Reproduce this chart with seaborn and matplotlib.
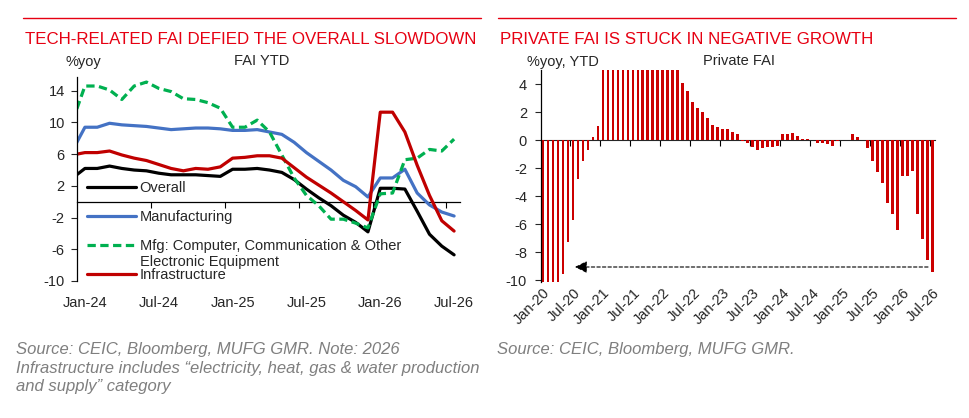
import numpy as np
import matplotlib.pyplot as plt
import seaborn as sns
import pandas as pd
from matplotlib.lines import Line2D

# ---- FAI YTD, %yoy (Dec-23 .. Jul-26, Jan shows the Jan-Feb print) ----
fai_months = pd.date_range('2023-12-01', '2026-07-01', freq='MS')
overall = [3.0,
           4.2, 4.2, 4.5, 4.2, 4.0, 3.9, 3.6, 3.4, 3.4, 3.4, 3.3, 3.2,
           4.1, 4.1, 4.2, 4.0, 3.7, 2.8, 1.6, 0.5, -0.5, -1.7, -2.6, -3.8,
           1.7, 1.7, 1.6, -1.2, -4.1, -5.6, -6.7]
manufacturing = [6.5,
                 9.4, 9.4, 9.9, 9.7, 9.6, 9.5, 9.3, 9.1, 9.2, 9.3, 9.3, 9.2,
                 9.0, 9.0, 9.1, 8.8, 8.5, 7.5, 6.2, 5.1, 4.0, 2.7, 1.9, 0.6,
                 3.0, 3.0, 4.1, 1.1, -0.4, -1.3, -1.8]
computer_elec = [10.2,
                 14.6, 14.6, 14.1, 12.9, 14.6, 15.1, 14.3, 13.9, 13.0, 12.9, 12.5, 11.8,
                 9.4, 9.4, 10.3, 8.8, 5.9, 3.0, 0.8, -0.5, -2.2, -2.2, -2.7, -3.3,
                 1.0, 1.1, 5.3, 5.5, 6.6, 6.4, 7.9]
infrastructure = [5.9,
                  6.2, 6.2, 6.4, 5.9, 5.5, 5.2, 4.7, 4.2, 3.9, 4.2, 4.1, 4.4,
                  5.5, 5.6, 5.8, 5.8, 5.5, 4.3, 3.1, 2.1, 1.1, 0.0, -1.1, -2.3,
                  11.3, 11.3, 8.8, 4.6, 0.8, -2.4, -3.7]
series_names = ['Overall', 'Manufacturing',
                'Mfg: Computer, Communication & Other', 'Infrastructure']
second_line = 'Electronic Equipment'

# ---- Private FAI YTD, %yoy (Jan-20 .. Jul-26) ----
private_months = pd.date_range('2020-01-01', '2026-07-01', freq='MS')
private_fai = [-26.4, -26.4, -18.8, -13.3, -9.6, -7.3, -5.7, -2.8, -1.5, -0.7, 0.2, 1.0,
               36.4, 36.4, 26.0, 21.0, 18.1, 15.4, 13.4, 11.5, 9.8, 8.6, 7.7, 7.0,
               11.4, 11.4, 8.4, 5.3, 4.1, 3.5, 2.7, 2.3, 2.0, 1.6, 1.1, 0.9,
               0.8, 0.8, 0.6, 0.4, -0.1, -0.2, -0.5, -0.7, -0.6, -0.5, -0.5, -0.4,
               0.4, 0.4, 0.5, 0.3, 0.1, 0.1, 0.0, -0.2, -0.2, -0.3, -0.4, -0.1,
               0.0, 0.0, 0.4, 0.2, 0.0, -0.6, -1.5, -2.3, -3.1, -4.5, -5.3, -6.4,
               -2.6, -2.6, -2.2, -5.3, -7.1, -8.6, -9.4]
arrow_level = -9.07

RED_TITLE = '#E60012'
BAR_RED = '#CC0000'
GREY = '#7F7F7F'
line_colors = ['#000000', '#4472C4', '#00B050', '#C00000']
line_styles = ['-', '-', (0, (2.6, 1.4)), '-']

sns.set_style('white')
plt.rcParams['font.family'] = ['Liberation Sans', 'DejaVu Sans']
plt.rcParams['axes.unicode_minus'] = False
FS = 10.5

W, H = 969, 418
fig = plt.figure(figsize=(W / 100, H / 100), dpi=100)


def px_rect(x0, y0, x1, y1):
    return [x0 / W, 1 - y1 / H, (x1 - x0) / W, (y1 - y0) / H]


def zero_axis(ax, ticks, ymin, ymax):
    # x axis line drawn at y=0 with tick marks, labels stay at the bottom
    sec = ax.secondary_xaxis((0 - ymin) / (ymax - ymin))
    sec.set_xticks(ticks)
    sec.set_xticklabels([])
    sec.tick_params(axis='x', direction='out', length=4, width=0.8,
                    labelbottom=False, labeltop=False, top=False, bottom=True,
                    color='black')
    sec.spines['bottom'].set_linewidth(0.9)
    sec.spines['bottom'].set_color('black')


# ================= left chart =================
ax1 = fig.add_axes(px_rect(77.3, 77.3, 460, 281))
month_idx = (fai_months.year - 2024) * 12 + fai_months.month - 1
xpos = month_idx + 0.62
for vals, name, col, ls in zip([overall, manufacturing, computer_elec, infrastructure],
                               series_names, line_colors, line_styles):
    sns.lineplot(x=xpos, y=vals, ax=ax1, color=col, lw=2.3, linestyle=ls,
                 label=name, legend=False)

y1min, y1max = -10, 15.7
ax1.set_ylim(y1min, y1max)
ax1.set_xlim(0, 31.1)
ax1.set_yticks(np.arange(-10, 15, 4))
lab_sel = [i for i in range(len(fai_months)) if fai_months[i].month in (1, 7)]
ax1.set_xticks(xpos[lab_sel])
ax1.set_xticklabels([fai_months[i].strftime('%b-%y') for i in lab_sel], fontsize=FS)
ax1.tick_params(axis='x', length=0, pad=11)
ax1.tick_params(axis='y', direction='out', length=4, width=0.8, labelsize=FS, pad=5, left=True)
for s in ['top', 'right', 'bottom']:
    ax1.spines[s].set_visible(False)
ax1.spines['left'].set_color('black')
ax1.spines['left'].set_linewidth(0.9)
ax1.set_xlabel('')
ax1.set_ylabel('')
zero_axis(ax1, np.arange(6, 31, 6), y1min, y1max)

leg = ax1.legend(handles=ax1.get_lines()[:4], labels=series_names, loc='upper left',
                 bbox_to_anchor=(0.025, 0.492), frameon=False, fontsize=FS,
                 handlelength=3.4, handletextpad=0.22, labelspacing=1.04,
                 borderaxespad=0, borderpad=0)
# wrapped part of the third legend label (overlaps the next row, as in the original)
fig.text(140 / W, 1 - 262 / H, second_line, fontsize=FS, va='center')

# ================= right chart =================
ax2 = fig.add_axes(px_rect(541, 70, 935, 281.7))
private_labels = [d.strftime('%b-%y') for d in private_months]
sns.barplot(x=private_labels, y=private_fai, ax=ax2, color=BAR_RED,
            saturation=1, width=0.55, linewidth=0)
y2min, y2max = -10.12, 5
ax2.set_ylim(y2min, y2max)
ax2.set_xlim(-0.4, 78.5)
ax2.set_yticks(np.arange(-10, 5, 2))
sel2 = [i for i in range(len(private_months)) if private_months[i].month in (1, 7)]
ax2.set_xticks(sel2)
ax2.set_xticklabels([private_labels[i] for i in sel2], rotation=45, ha='right',
                    rotation_mode='anchor', fontsize=FS)
ax2.tick_params(axis='x', length=0, pad=3)
ax2.tick_params(axis='y', direction='out', length=4, width=0.8, labelsize=FS, pad=6, left=True)
for s in ['top', 'right', 'bottom']:
    ax2.spines[s].set_visible(False)
ax2.spines['left'].set_color('black')
ax2.spines['left'].set_linewidth(0.9)
ax2.set_xlabel('')
ax2.set_ylabel('')
zero_axis(ax2, np.arange(5.5, 78, 6), y2min, y2max)

ax2.annotate('', xy=(6.4, arrow_level), xytext=(77.1, arrow_level),
             arrowprops=dict(arrowstyle='-|>', color='black', lw=0.8,
                             linestyle=(0, (3, 2)), mutation_scale=18,
                             shrinkA=0, shrinkB=0))

# ================= headers / footers =================
fig.add_artist(Line2D([23 / W, 481 / W], [1 - 18 / H] * 2, color=RED_TITLE, lw=1))
fig.add_artist(Line2D([498 / W, 956 / W], [1 - 18 / H] * 2, color=RED_TITLE, lw=1))
fig.text(25 / W, 1 - 40 / H, 'TECH-RELATED FAI DEFIED THE OVERALL SLOWDOWN',
         color=RED_TITLE, fontsize=12.2, va='center')
fig.text(500 / W, 1 - 40 / H, 'PRIVATE FAI IS STUCK IN NEGATIVE GROWTH',
         color=RED_TITLE, fontsize=12.2, va='center')
fig.text(66 / W, 1 - 62 / H, '%yoy', fontsize=FS, va='center')
fig.text(262 / W, 1 - 61 / H, 'FAI YTD', fontsize=FS, va='center', ha='center')
fig.text(527 / W, 1 - 62 / H, '%yoy, YTD', fontsize=FS, va='center')
fig.text(739 / W, 1 - 61 / H, 'Private FAI', fontsize=FS, va='center', ha='center')

fig.text(16 / W, 1 - 342 / H,
         'Source: CEIC, Bloomberg, MUFG GMR. Note: 2026\n'
         'Infrastructure includes \u201celectricity, heat, gas & water production\n'
         'and supply\u201d category',
         color=GREY, style='italic', fontsize=12, va='top', linespacing=1.3)
fig.text(497 / W, 1 - 342 / H, 'Source: CEIC, Bloomberg, MUFG GMR.',
         color=GREY, style='italic', fontsize=12, va='top')

fig.savefig('out.png', dpi=100)
